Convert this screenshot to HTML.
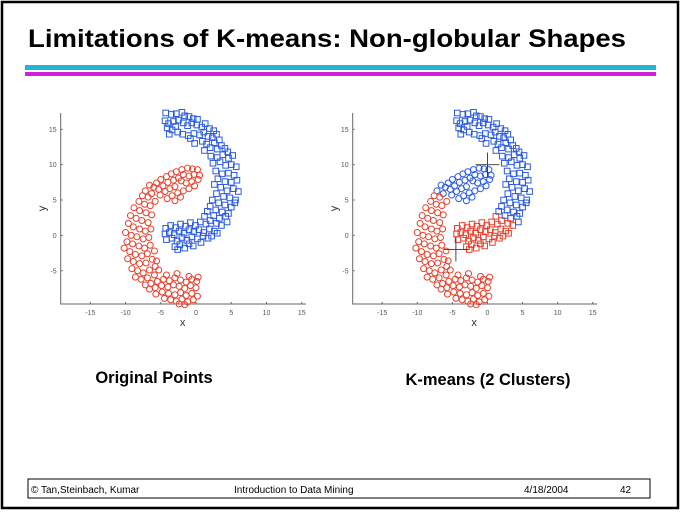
<!DOCTYPE html>
<html><head><meta charset="utf-8">
<style>
html,body{margin:0;padding:0;background:#fff;}
#slide{position:relative;width:682px;height:515px;overflow:hidden;font-family:"Liberation Sans",sans-serif;}
</style></head>
<body>
<div id="slide">
<svg id="svg" width="682" height="515" viewBox="0 0 682 515" xmlns="http://www.w3.org/2000/svg">
  <rect x="2" y="2" width="676" height="506" fill="none" stroke="#000" stroke-width="2.5"/>
  <text x="28" y="47" font-family="Liberation Sans, sans-serif" font-weight="bold" font-size="25" textLength="598" lengthAdjust="spacingAndGlyphs" fill="#000">Limitations of K-means: Non-globular Shapes</text>
  <rect x="25" y="65" width="631" height="5" fill="#22b4d8"/>
  <rect x="25" y="72" width="631" height="4" fill="#d020d8"/>
  <g id="plotL"></g>
  <g id="plotR"></g>
  <text x="154" y="383" text-anchor="middle" font-weight="bold" font-size="16.5">Original Points</text>
  <text x="488" y="385" text-anchor="middle" font-weight="bold" font-size="16.5">K-means (2 Clusters)</text>
  <rect x="28" y="479" width="622" height="19" fill="none" stroke="#000" stroke-width="1"/>
  <text x="31" y="493" font-size="10">© Tan,Steinbach, Kumar</text>
  <text x="234" y="493" font-size="10">Introduction to Data Mining</text>
  <text x="524" y="493" font-size="10">4/18/2004</text>
  <text x="620" y="493" font-size="10">42</text>
</svg>
</div>
<script>
const xTicks=[-15,-10,-5,0,5,10,15];
const yTicks=[-5,0,5,10,15];
const squaresX=[-4.3,-3.5,-2.8,-2,-1.6,-1,-0.4,0.2,-4.4,-3.9,-3.2,-2.5,-1.8,-1.2,-0.6,0.1,0.8,1.3,1.9,2.5,-4.1,-3.4,-2.6,-1.9,-1.1,-0.3,0.5,1.1,1.7,2.3,2.9,3.3,-3.8,-2.9,-0.8,0.9,1.5,2.6,3.6,4.1,-0.2,3.0,2.0,1.2,4.5,
2.1,3.0,3.8,4.6,5.2,2.4,3.4,4.2,5.0,5.7,2.8,3.7,4.6,5.4,3.1,4.1,5.0,5.8,2.6,3.5,4.4,5.3,6.0,2.9,3.9,4.8,5.6,2.3,3.2,4.1,5.0,5.5,2.0,2.8,3.7,4.6,1.6,2.5,3.3,4.2,1.2,2.0,2.9,3.6,4.4,
1.4,0.6,-0.1,-0.8,-1.5,-2.2,-2.9,-3.6,-4.3,-4.4,-3.8,-3.1,-2.4,-1.7,-1.0,-0.3,0.4,1.1,1.9,2.6,-4.2,-3.4,-2.7,-2.0,-1.3,-0.6,0.2,1.0,1.7,-3.0,-2.3,-1.6,-1.0,-0.4,-2.6,0.7,2.2,3.0];
const squaresY=[17.3,17.1,17.2,17.4,16.9,16.8,16.5,16.4,16.2,15.8,16.1,16.3,15.9,15.5,15.9,15.6,15.3,15.8,15.1,14.8,15.2,14.9,14.6,14.3,14.1,14.4,14.2,14.6,14.0,13.8,14.3,13.5,14.3,15.4,13.7,13.3,12.9,13.1,12.7,12.3,13.0,12.2,12.4,12.0,11.8,
11.2,11.0,11.4,10.9,11.3,10.2,10.4,9.9,10.0,9.7,9.1,8.7,8.8,8.5,8.0,7.6,7.5,7.8,7.2,6.8,6.3,6.6,6.2,5.9,5.5,5.3,5.0,5.0,4.6,4.3,4.0,4.6,4.1,3.6,3.3,3.1,3.4,2.8,2.4,2.7,2.7,2.1,1.7,1.4,1.9,
1.6,1.9,1.4,1.8,1.3,1.6,1.1,1.4,1.0,0.2,0.4,0.1,0.6,0.3,0.8,0.5,0.8,0.4,0.9,0.6,-0.6,-0.4,-0.8,-0.3,-0.7,-0.2,-0.5,-0.1,-0.4,-1.6,-1.3,-1.8,-1.2,-1.5,-2.0,-1.0,-0.1,0.3];
const circlesX=[-0.5,0.2,-1.2,-2.0,-2.8,-3.5,-4.2,-5.0,-5.6,-0.3,-1.0,-1.8,-2.5,-3.2,-4.0,-4.7,-5.3,0.3,-0.6,-1.4,-2.1,-3.0,-3.7,-4.4,-5.1,-0.2,-1.0,-1.8,-2.6,-3.4,-4.1,-6.0,-6.3,0.5,-2.2,-3.0,
-6.6,-7.2,-6.8,-7.6,-8.1,-7.3,-6.5,-5.8,-8.8,-8.0,-7.1,-6.3,-9.3,-8.5,-7.7,-6.8,-9.6,-8.9,-8.0,-7.2,-6.4,-10.0,-9.2,-8.4,-7.5,-6.7,-9.8,-9.0,-8.1,-7.3,-6.5,-10.2,-9.4,-8.6,-7.7,-6.9,-9.7,-8.9,-8.0,-7.1,-6.2,-9.1,-8.3,-7.5,-6.6,-5.8,-8.6,-7.8,-6.9,-5.9,-5.3,-5.6,-5.9,
-7.2,-6.4,-5.5,-4.6,-3.8,-3.0,-2.2,-1.4,-0.6,0.1,-6.6,-5.8,-4.9,-4.0,-3.2,-2.4,-1.6,-0.8,0.0,-5.7,-4.8,-3.9,-3.0,-2.2,-1.4,-0.6,0.2,-4.5,-3.6,-2.8,-2.0,-1.2,-0.4,-2.4,-1.6,-4.2,-2.7,-1.0,0.3];
const circlesY=[9.4,9.3,9.5,9.3,9.0,8.7,8.3,7.9,7.4,8.6,8.4,8.6,8.1,7.8,7.5,7.0,6.5,7.9,7.6,7.4,7.7,6.9,6.6,6.2,5.7,7.0,6.6,6.3,6.0,5.6,5.2,6.8,5.9,8.5,5.4,4.9,
7.1,6.3,5.4,5.6,4.8,4.4,4.2,4.8,3.9,3.5,3.2,2.9,2.8,2.4,2.1,1.8,1.7,1.2,0.9,0.6,0.9,0.4,0.0,-0.2,-0.5,-0.3,-0.9,-1.2,-1.5,-1.8,-1.4,-1.8,-2.3,-2.7,-2.9,-2.6,-3.3,-3.7,-4.0,-3.9,-3.4,-4.7,-5.0,-5.3,-4.9,-4.4,-5.9,-6.2,-6.0,-5.6,-4.9,-3.6,-2.2,
-7.0,-6.8,-6.5,-6.2,-6.4,-6.0,-6.3,-6.6,-6.2,-6.5,-7.6,-7.4,-7.1,-7.3,-7.0,-7.2,-7.5,-7.1,-7.4,-8.3,-8.0,-8.2,-8.4,-8.1,-8.5,-8.2,-8.6,-8.9,-9.1,-9.3,-9.0,-9.4,-9.1,-9.7,-9.8,-5.6,-5.4,-5.8,-5.9];
const centroidsX=[0,-4.5];
const centroidsY=[10,-2];

const NS="http://www.w3.org/2000/svg";
const BLUE="#2a5ae0", RED="#e8402c";
function mk(tag,attrs,parent){const e=document.createElementNS(NS,tag);for(const k in attrs)e.setAttribute(k,attrs[k]);parent.appendChild(e);return e;}

function drawPlot(g,left,right,kmeans){
  const bottom=304, top=113, xmin=-19.2, xmax=15.6, ymin=-9.7, ymax=17.3;
  const sx=v=>left+(v-xmin)/(xmax-xmin)*(right-left);
  const sy=v=>bottom-(v-ymin)/(ymax-ymin)*(bottom-top);
  const ax=mk('path',{d:`M${left},${top}V${bottom}H${right}`,fill:'none',stroke:'#666','stroke-width':1},g);
  
  
  xTicks.forEach(t=>{
    const tk=mk('line',{x1:sx(t),x2:sx(t),y1:bottom,y2:bottom-2,stroke:'#666'},g);
    
    
    const lb=mk('text',{x:sx(t),y:bottom+11,'text-anchor':'middle','font-size':7,fill:'#555'},g);
    lb.textContent=t;
    
    
  });
  yTicks.forEach(t=>{
    const tk=mk('line',{x1:left,x2:left+2,y1:sy(t),y2:sy(t),stroke:'#666'},g);
    
    
    const lb=mk('text',{x:left-4,y:sy(t)+2.5,'text-anchor':'end','font-size':7,fill:'#555'},g);
    lb.textContent=t;
    
    
  });
  const xl=mk('text',{x:sx(-1.9),y:bottom+22,'text-anchor':'middle','font-size':11,fill:'#333'},g);
  xl.textContent='x';
  
  
  const yl=mk('text',{x:0,y:0,'text-anchor':'middle','font-size':11,fill:'#333',transform:`translate(${left-15},${sy(3.8)}) rotate(-90)`},g);
  yl.textContent='y';
  
  
  function clusterColor(x,y,def){
    if(!kmeans)return def;
    const d0=(x-centroidsX[0])**2+(y-centroidsY[0])**2;
    const d1=(x-centroidsX[1])**2+(y-centroidsY[1])**2;
    return d0<d1?BLUE:RED;
  }
  circlesX.forEach((x,i)=>{
    const y=circlesY[i];
    const c=mk('circle',{cx:sx(x),cy:sy(y),r:3,fill:'none',stroke:clusterColor(x,y,RED),'stroke-width':1},g);
    
    
  });
  squaresX.forEach((x,i)=>{
    const y=squaresY[i];
    const r=mk('rect',{x:sx(x)-2.8,y:sy(y)-2.8,width:5.6,height:5.6,fill:'none',stroke:clusterColor(x,y,BLUE),'stroke-width':1},g);
    
    
  });
  if(kmeans){
    centroidsX.forEach((cx,i)=>{
      const cy=centroidsY[i];
      const p=mk('path',{d:`M${sx(cx-1.7)},${sy(cy)}H${sx(cx+1.7)}M${sx(cx)},${sy(cy-1.7)}V${sy(cy+1.7)}`,stroke:'#333','stroke-width':0.9,fill:'none'},g);
      
      
    });
  }
}
drawPlot(document.getElementById('plotL'),60.7,306,false);
drawPlot(document.getElementById('plotR'),352.7,597,true);
</script>
</body></html>
